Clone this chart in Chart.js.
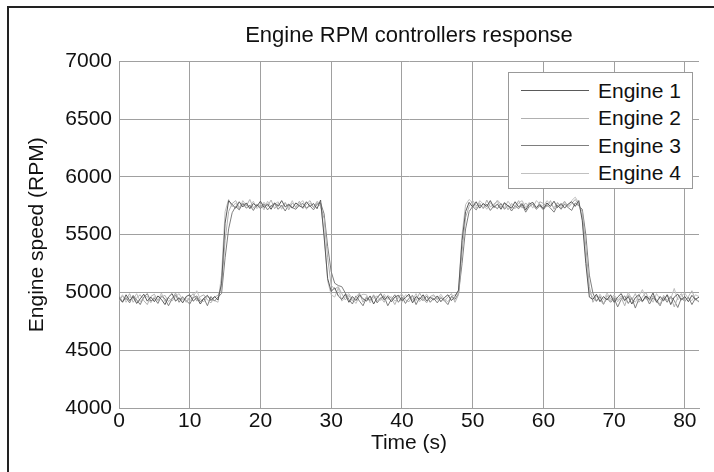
<!DOCTYPE html>
<html>
<head>
<meta charset="utf-8">
<title>Engine RPM controllers response</title>
<script src="https://cdn.jsdelivr.net/npm/chart.js@4.4.1/dist/chart.umd.min.js"></script>
<style>
  body { margin: 0; background: #fff; }
  #wrap { position: relative; width: 714px; height: 472px; overflow: hidden; }
  #frame { position: absolute; left: 7px; top: 6px; width: 800px; height: 600px;
           border-left: 2px solid #222; border-top: 2px solid #222; }
  #chart { position: absolute; left: 0; top: 0; }
  #legend { position: absolute; left: 508px; top: 72px; width: 185px; height: 117px;
            border: 1px solid #999; background: #fff; box-sizing: border-box;
            font-family: "Liberation Sans", Arial, sans-serif; font-size: 21px; color: #111; padding-top: 4px; }
  #legend .row { height: 27.5px; display: flex; align-items: center; }
  #legend .swatch { width: 68px; margin-left: 12px; margin-right: 9px; height: 0; border-top: 1px solid; }
</style>
</head>
<body>
<div id="wrap">
  <div id="frame"></div>
  <canvas id="chart" width="714" height="472"></canvas>
  <div id="legend"></div>
</div>
<script>
'use strict';

// sample times (s)
var times = [
  0,0.5,1,1.5,2,2.5,3,3.5,4,4.5,
  5,5.5,6,6.5,7,7.5,8,8.5,9,9.5,
  10,10.5,11,11.5,12,12.5,13,13.5,14,14.5,
  15,15.5,16,16.5,17,17.5,18,18.5,19,19.5,
  20,20.5,21,21.5,22,22.5,23,23.5,24,24.5,
  25,25.5,26,26.5,27,27.5,28,28.5,29,29.5,
  30,30.5,31,31.5,32,32.5,33,33.5,34,34.5,
  35,35.5,36,36.5,37,37.5,38,38.5,39,39.5,
  40,40.5,41,41.5,42,42.5,43,43.5,44,44.5,
  45,45.5,46,46.5,47,47.5,48,48.5,49,49.5,
  50,50.5,51,51.5,52,52.5,53,53.5,54,54.5,
  55,55.5,56,56.5,57,57.5,58,58.5,59,59.5,
  60,60.5,61,61.5,62,62.5,63,63.5,64,64.5,
  65,65.5,66,66.5,67,67.5,68,68.5,69,69.5,
  70,70.5,71,71.5,72,72.5,73,73.5,74,74.5,
  75,75.5,76,76.5,77,77.5,78,78.5,79,79.5,
  80,80.5,81,81.5,82
];

var xTicks = [0, 10, 20, 30, 40, 50, 60, 70, 80];
var yTicks = [4000, 4500, 5000, 5500, 6000, 6500, 7000];

var engine1 = [
  4950,4915,4980,4930,4965,4905,4945,4985,4925,4960,
  4920,4970,4940,4895,4960,4990,4925,4955,4910,4965,
  4980,4925,4955,4900,4950,4975,4930,4965,4935,5080,
  5600,5795,5760,5730,5785,5740,5775,5725,5770,5745,
  5790,5735,5765,5720,5775,5745,5795,5740,5765,5730,
  5775,5750,5735,5785,5745,5770,5725,5800,5480,5120,
  5010,5040,4970,4940,4985,4915,4965,4930,4980,4945,
  4925,4970,4900,4955,4990,4935,4965,4920,4960,4975,
  4930,4955,4985,4910,4965,4940,4980,4925,4960,4935,
  4970,4920,4955,4980,4930,4965,5020,5450,5700,5780,
  5740,5785,5730,5770,5745,5795,5735,5765,5720,5775,
  5750,5730,5785,5740,5770,5715,5765,5780,5735,5760,
  5725,5775,5745,5790,5735,5770,5730,5765,5785,5745,
  5795,5620,5250,4960,4940,4985,4920,4965,4935,4980,
  4915,4960,4990,4930,4965,4900,4955,4980,4925,4970,
  4940,4995,4915,4965,4930,4980,4895,4960,4985,4935,
  4965,4920,4975,4940,4960
];

var engine2 = [
  4925,4970,4935,4990,4915,4955,4980,4930,4895,4965,
  4985,4930,4960,4975,4920,4950,4995,4935,4965,4915,
  4960,4990,4925,4965,4980,4935,4910,4960,4975,5040,
  5450,5700,5770,5795,5735,5775,5750,5805,5730,5765,
  5735,5780,5745,5800,5725,5770,5740,5780,5715,5775,
  5740,5790,5725,5765,5795,5735,5780,5745,5640,5300,
  5060,5030,5050,4990,4935,4975,4925,4960,4995,4915,
  4965,4935,4980,4925,4955,4915,4975,4950,4895,4965,
  4985,4935,4920,4970,4930,4995,4945,4910,4965,4980,
  4935,4965,4925,4960,4990,4915,4980,5350,5650,5745,
  5795,5750,5775,5725,5800,5740,5765,5790,5735,5780,
  5715,5770,5745,5795,5730,5775,5740,5765,5725,5785,
  5770,5740,5795,5720,5775,5750,5790,5735,5770,5805,
  5760,5700,5400,5050,4915,4970,4940,4895,4975,4930,
  4965,4920,4955,4885,4980,4935,4990,4915,4960,5000,
  4925,4970,4940,4895,4975,4930,4965,4875,4955,4990,
  4920,4965,5015,4935,4925
];

var engine3 = [
  4965,4920,4955,4910,4975,4935,4895,4960,4990,4925,
  4950,4905,4970,4945,4885,4945,4980,4915,4960,4930,
  4900,4955,4970,4920,4950,4885,4965,4925,4960,4990,
  5300,5550,5690,5745,5715,5770,5730,5755,5710,5760,
  5725,5765,5715,5750,5770,5720,5755,5705,5760,5735,
  5720,5755,5770,5730,5750,5715,5765,5775,5680,5400,
  5180,5080,5060,5050,4995,4940,4900,4970,4925,4885,
  4955,4930,4975,4910,4950,4965,4885,4940,4980,4915,
  4960,4905,4950,4975,4895,4955,4930,4970,4915,4950,
  4910,4955,4930,4895,4965,4940,4990,5250,5550,5700,
  5745,5715,5760,5730,5765,5710,5750,5725,5770,5720,
  5755,5705,5750,5725,5760,5695,5745,5765,5720,5750,
  5715,5760,5730,5695,5755,5720,5765,5735,5710,5775,
  5750,5720,5500,5150,4995,4925,4965,4900,4950,4915,
  4950,4875,4940,4970,4905,4955,4865,4945,4920,4965,
  4900,4955,4925,4885,4960,4915,4965,4930,4870,4950,
  4925,4960,4895,4950,4915
];

var engine4 = [
  4935,4980,4915,4965,4940,4990,4920,4960,4965,4910,
  4965,4930,4995,4920,4955,4925,4965,4990,4935,4955,
  4925,4965,5015,4940,4920,4965,4945,4930,4915,5150,
  5700,5805,5740,5775,5720,5795,5755,5740,5790,5725,
  5765,5715,5790,5740,5765,5785,5720,5775,5735,5795,
  5730,5770,5795,5720,5775,5735,5790,5765,5520,5100,
  4980,4960,5040,4925,4960,4990,4945,4905,4965,4985,
  4980,4910,4955,4970,4930,4985,4940,4965,4925,4955,
  4915,4980,4965,4935,4990,4920,4955,4985,4940,4970,
  4945,4985,4940,4920,4965,4980,5000,5500,5760,5805,
  5775,5730,5795,5765,5720,5775,5750,5800,5765,5735,
  5790,5745,5725,5775,5795,5735,5780,5730,5795,5765,
  5745,5795,5765,5735,5780,5730,5785,5750,5795,5825,
  5775,5650,5300,5000,4960,4920,4985,4935,4995,4945,
  4980,4935,4970,4925,5000,4945,4915,4970,5025,4940,
  4965,4915,4990,4940,4925,4980,4945,5035,4935,4970,
  4995,4945,4930,4980,4965
];

var seriesNames = ['Engine 1', 'Engine 2', 'Engine 3', 'Engine 4'];
var seriesColors = ['#5a5a5a', '#b0b0b0', '#7e7e7e', '#c0c0c0'];
var allSeries = [engine1, engine2, engine3, engine4];

var font = "'Liberation Sans', Arial, sans-serif";

function toPoints(vals) {
  return vals.map(function (v, i) { return { x: times[i], y: v }; });
}

var datasets = allSeries.map(function (vals, i) {
  return {
    label: seriesNames[i],
    data: toPoints(vals),
    borderColor: seriesColors[i],
    borderWidth: 1,
    pointRadius: 0,
    tension: 0,
    fill: false
  };
});

function fixedTicks(list) {
  return function (scale) {
    scale.ticks = list.map(function (v) { return { value: v }; });
  };
}

var ctx = document.getElementById('chart').getContext('2d');
var chart = new Chart(ctx, {
  type: 'line',
  data: { datasets: datasets },
  options: {
    responsive: false,
    animation: false,
    layout: { padding: { left: 0, right: 15, top: 0, bottom: 0 } },
    plugins: {
      legend: { display: false },
      tooltip: { enabled: false },
      title: {
        display: true,
        fullSize: false,
        text: 'Engine RPM controllers response',
        color: '#111',
        font: { family: font, size: 22, weight: 'normal' },
        padding: { top: 23, bottom: 12 }
      }
    },
    scales: {
      x: {
        type: 'linear',
        min: 0,
        max: 82,
        afterBuildTicks: fixedTicks(xTicks),
        afterFit: function (scale) { scale.height = 64; },
        ticks: {
          color: '#111',
          padding: 1,
          maxRotation: 0,
          autoSkip: false,
          font: { family: font, size: 21 },
          callback: function (v) { return String(v); }
        },
        grid: { color: '#a0a0a0', lineWidth: 1, tickLength: 0 },
        border: { color: '#a0a0a0' },
        title: {
          display: true,
          text: 'Time (s)',
          color: '#111',
          font: { family: font, size: 21 },
          padding: { top: 0, bottom: 16 }
        }
      },
      y: {
        min: 4000,
        max: 7000,
        afterBuildTicks: fixedTicks(yTicks),
        afterFit: function (scale) { scale.width = 119; },
        ticks: {
          color: '#111',
          padding: 7,
          autoSkip: false,
          font: { family: font, size: 21 },
          callback: function (v) { return String(v); }
        },
        grid: { color: '#a0a0a0', lineWidth: 1, tickLength: 0 },
        border: { color: '#a0a0a0' },
        title: {
          display: true,
          text: 'Engine speed (RPM)',
          color: '#111',
          font: { family: font, size: 21 },
          padding: { top: 25, bottom: 0 }
        }
      }
    }
  }
});

// boxed legend, MATLAB style
var legendEl = document.getElementById('legend');
chart.data.datasets.forEach(function (ds) {
  var row = document.createElement('div');
  row.className = 'row';
  var sw = document.createElement('span');
  sw.className = 'swatch';
  sw.style.borderTopColor = ds.borderColor;
  var txt = document.createElement('span');
  txt.textContent = ds.label;
  row.appendChild(sw);
  row.appendChild(txt);
  legendEl.appendChild(row);
});
</script>
</body>
</html>
